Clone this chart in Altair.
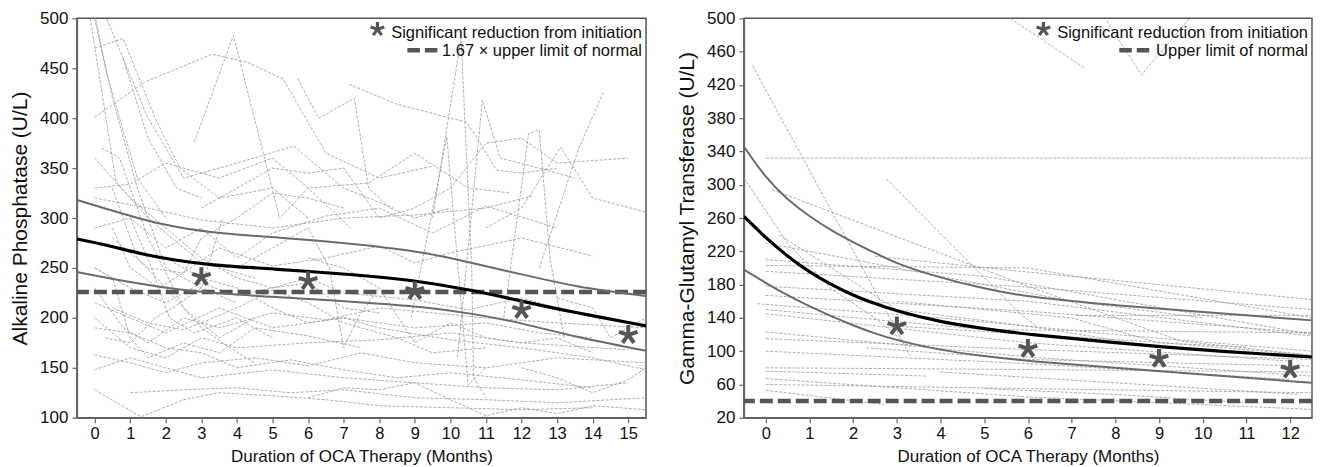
import altair as alt
import pandas as pd

FONT = "Liberation Sans"
STAR = "M0,0L0,-1M0,0L0.951,-0.309M0,0L0.588,0.809M0,0L-0.588,0.809M0,0L-0.951,-0.309"

# ---------------- Alkaline phosphatase (left) ----------------
alp_trend_months = [-0.5, 0.35, 1.3, 2.2, 3.2, 5.05, 7.4, 8.9, 10.6, 12.1, 13.4, 15.5]
alp_trend = [279, 273, 264, 258, 253, 249, 243, 238, 228, 216, 206, 192]
alp_ci_months = [-0.5, 0.35, 1.3, 2.2, 3.6, 5.05, 7.4, 9.3, 10.7, 12.1, 13.5, 15.5]
alp_upper = [318, 309, 299, 291, 284, 281, 274, 266, 254, 243, 231, 222]
alp_lower = [246, 240, 234, 229, 224, 221, 216, 211, 204, 194, 181, 167]
alp_star_months = [3, 6, 9, 12, 15]
alp_star_values = [241, 237, 227, 208, 183]
alp_ref = [226]
alp_patients = [
    [(0, 401), (1.4, 436), (3.3, 464), (4.3, 456), (5.3, 439), (6.5, 365), (8, 340), (9.5, 352)],
    [(2.8, 376), (3.9, 483), (5.2, 300), (6, 330), (7.2, 290)],
    [(-0.3, 540), (0.6, 336), (1.5, 300), (3, 255), (4.5, 240)],
    [(-0.1, 520), (0.5, 420), (1.2, 330), (2, 250), (3, 230), (4, 215)],
    [(0, 470), (0.8, 480), (1.7, 400), (2.4, 350), (3.5, 320), (5, 330), (6, 300)],
    [(0.1, 520), (1.5, 400), (2.5, 340), (4, 355), (5.6, 372), (7, 330), (8.4, 310)],
    [(0, 330), (1, 334), (2, 355), (3.5, 340), (5, 360), (6, 330), (7.7, 335), (9, 365), (10.5, 330), (11.7, 325)],
    [(0, 320), (1.5, 310), (3, 298), (5, 290), (7, 300), (9, 303), (11, 310), (12.3, 322)],
    [(0, 290), (1, 300), (2, 270), (3, 290), (4, 260), (5, 285), (6.5, 302), (8, 310), (9.5, 285), (11, 312), (13, 290)],
    [(0.5, 280), (1.5, 250), (2.5, 245), (3.5, 270), (5, 252), (6.5, 260), (8, 272), (9, 255), (10, 265), (12, 280), (14, 262)],
    [(0, 250), (1, 230), (2, 215), (3, 235), (4, 222), (5, 230), (6, 240), (7, 225), (9, 218), (10.5, 208), (12, 220), (13.5, 205)],
    [(0, 230), (0.8, 190), (1.5, 175), (2.5, 200), (3.5, 190), (5, 205), (6.5, 198), (8, 210), (9.5, 205), (11, 200), (13, 195), (15.5, 190)],
    [(0, 215), (1, 200), (2, 185), (3.5, 210), (5, 190), (7, 200), (9, 190), (11, 195), (12.5, 185), (14, 180)],
    [(0, 200), (1, 170), (2, 160), (3, 180), (4, 170), (6, 175), (8, 178), (10, 185), (12, 175), (15, 168)],
    [(0, 163), (1, 155), (2, 145), (3, 155), (4.5, 160), (6, 152), (7.5, 165), (9, 155), (11, 150), (13, 160), (15.5, 155)],
    [(0, 148), (1, 160), (2, 150), (3, 140), (5, 148), (7, 140), (9, 135), (11, 130), (13, 128), (15, 135)],
    [(0, 128), (1.3, 101), (2.5, 118), (3.5, 125), (5, 122), (6.5, 118), (8, 112), (10, 110), (12, 108), (14, 110)],
    [(1, 125), (2.5, 128), (4, 130), (5.5, 125), (7, 128), (9, 120), (11, 118), (13, 115), (15.5, 120)],
    [(0, 190), (1, 185), (2, 170), (3, 165), (4, 150), (5.5, 158), (7, 148), (8.5, 140), (10, 145), (12, 138), (14, 130)],
    [(0.2, 370), (0.7, 360), (1.5, 280), (2.5, 210), (3.5, 180), (4.5, 200)],
    [(0, 360), (1, 320), (2, 290), (3, 260), (4, 240), (5, 230), (6, 235), (7, 210), (8, 205)],
    [(0, 250), (0.5, 240), (1, 180), (1.5, 160), (2.5, 175), (3.5, 165), (4.5, 190), (6, 182), (7.5, 170)],
    [(0.5, 330), (1.2, 260), (2, 230), (3, 190), (3.8, 170), (4.5, 155)],
    [(1, 300), (1.6, 250), (2.1, 200), (2.8, 185), (4, 200), (5, 180)],
    [(5.7, 440), (6.3, 400), (7.3, 420), (7.7, 330), (8.3, 310), (9, 300), (10, 310)],
    [(7.15, 434), (8.5, 414), (10.45, 396), (10.7, 383), (11.3, 348), (12, 345), (13, 350)],
    [(8.9, 200), (9.9, 381), (10.5, 133), (11, 150)],
    [(9.5, 300), (10.3, 480), (10.6, 250), (10.65, 140), (11, 120)],
    [(10.2, 160), (10.9, 418), (11.4, 360), (12.5, 350), (13.5, 340)],
    [(11.5, 200), (12.2, 385), (12.5, 388), (12.8, 260), (13.2, 180)],
    [(11, 290), (12, 310), (13.1, 371), (14, 320), (15.5, 306)],
    [(12.5, 250), (13.6, 369), (14.3, 426)],
    [(6, 260), (7, 250), (8, 230), (9, 175), (10, 195), (11, 180), (12, 175), (13, 180), (14, 165)],
    [(2, 260), (3, 240), (4, 230), (5, 210), (6, 195), (7, 200), (8, 190), (10, 178), (12, 170), (14, 160), (15.5, 148)],
    [(6, 120), (7, 130), (8, 128), (9, 135), (10, 118), (11, 102), (12, 110), (13, 104), (14, 112), (15.5, 108)],
    [(0.5, 290), (1, 250), (1.8, 230), (2.5, 245), (3, 280), (4, 300), (5, 325), (6, 320), (7, 310)],
    [(3, 310), (4, 330), (5, 350), (6, 345), (7, 350), (8, 300), (9, 310), (10, 330), (11, 375), (12, 380), (13, 355), (15, 360)],
    [(0.5, 210), (1.5, 195), (2.5, 188), (3, 195), (4, 210), (5, 228), (6, 215), (7, 195), (8.5, 180), (9.5, 165), (11, 170)],
    [(4, 250), (5, 270), (6, 290), (6.6, 250), (7, 170), (7.4, 200), (8, 230)],
    [(13, 220), (14, 210), (14.5, 180), (15.5, 200)],
    [(0, 500), (0.3, 450), (0.7, 400), (1.2, 340), (2, 300)],
    [(0.8, 460), (1.5, 380), (2.3, 330), (3, 320)],
    [(12, 150), (13, 140), (14, 125), (15, 138), (15.5, 150)],
    [(0.3, 180), (1, 175), (1.7, 200), (2.2, 210), (3, 230), (3.6, 300)],
]

# ---------------- Gamma-glutamyl transferase (right) ----------------
ggt_curve_months = [-0.5, 0, 0.5, 1, 1.5, 2, 2.5, 3, 4, 5, 6, 8, 10, 12.5]
ggt_trend = [262, 236, 214, 195, 180, 167, 157, 148, 135, 127, 120, 110, 101, 93]
ggt_upper = [346, 308, 282, 262, 245, 231, 218, 205, 188, 175, 165, 155, 147, 137]
ggt_lower = [198, 182, 167, 154, 142, 131, 121, 113, 101, 94, 88, 80, 72, 62]
ggt_star_months = [3, 6, 9, 12]
ggt_star_values = [130, 103, 91, 78]
ggt_ref = [40]
ggt_patients = [
    [(-0.3, 443), (3.3, 95)],
    [(-0.5, 308), (0.5, 230), (1.5, 175), (2.5, 140), (3.3, 105)],
    [(2.76, 307), (5.8, 146), (6.2, 130)],
    [(0.15, 294), (6, 178), (9.5, 112), (12.5, 95)],
    [(5.6, 500), (7.3, 440)],
    [(7.8, 497), (8.6, 432), (9.7, 500)],
    [(0, 332), (12.5, 332)],
    [(2.5, 214), (6, 195), (9, 180), (12.5, 162)],
    [(0, 203), (6, 200), (12.5, 140)],
    [(0, 196), (6, 177), (12.5, 150)],
    [(0, 178), (6, 160), (12.5, 118)],
    [(0, 167), (6, 148), (12.5, 122)],
    [(-0.2, 157), (4, 140), (8, 120), (12.5, 100)],
    [(0, 123), (6, 93), (12.5, 70)],
    [(2.3, 104), (6, 90), (12.5, 82)],
    [(0, 80), (6, 78), (12.5, 75)],
    [(0, 76), (3.7, 70)],
    [(0, 67), (6, 45), (12.5, 30)],
    [(0, 53), (2.7, 36)],
    [(0.3, 240), (3, 150), (6, 130), (9, 105)],
    [(0, 230), (3, 200), (7, 160), (10, 140)],
    [(7.1, 143), (12.5, 143)],
    [(0, 210), (5, 190), (12.5, 120)],
    [(0, 115), (6, 102), (12.5, 90)],
    [(0, 100), (6, 85), (12, 66)],
    [(0, 60), (6, 55), (12.5, 50)],
    [(3, 160), (7, 140), (9, 110), (11, 105)],
    [(0, 145), (6, 110), (12, 88)],
    [(0, 150), (5, 126), (12.5, 122)],
    [(3, 130), (8.9, 111), (12.5, 95)],
    [(4, 75), (8, 62), (12.2, 48)],
    [(5, 55), (8, 48), (11, 38)],
]

legend_star_label = "Significant reduction from initiation"
alp_ref_label = "1.67 \u00d7 upper limit of normal"
ggt_ref_label = "Upper limit of normal"


def patients_df(lines):
    rows = []
    for i, line in enumerate(lines):
        for m, v in line:
            rows.append({"id": i, "month": m, "value": v})
    return pd.DataFrame(rows)


def curve_df(months, values):
    return pd.DataFrame({"month": months, "value": values})


def panel(pats, tm, tv, cm, up, lo, sm, sv, ref, xdom, xticks, ydom, yticks,
          ytitle, ref_label, dash_end, width, height):
    x = alt.X("month:Q", scale=alt.Scale(domain=xdom, nice=False, zero=False),
              axis=alt.Axis(values=xticks, format="d",
                            title="Duration of OCA Therapy (Months)"))
    y = alt.Y("value:Q", scale=alt.Scale(domain=ydom, nice=False, zero=False),
              axis=alt.Axis(values=yticks, title=ytitle))

    base_pat = alt.Chart(patients_df(pats)).mark_line(
        clip=True, color="#9a9a9a", strokeWidth=0.8, strokeDash=[3, 1.5]
    ).encode(x=x, y=y, detail="id:N")

    ref_line = alt.Chart(pd.DataFrame({"value": ref})).mark_rule(
        color="#555555", strokeWidth=4.5, strokeDash=[13, 5]
    ).encode(y=y)

    upper = alt.Chart(curve_df(cm, up)).mark_line(
        clip=True, color="#6b6b6b", strokeWidth=2, interpolate="basis"
    ).encode(x=x, y=y)
    lower = alt.Chart(curve_df(cm, lo)).mark_line(
        clip=True, color="#6b6b6b", strokeWidth=2, interpolate="basis"
    ).encode(x=x, y=y)
    trend = alt.Chart(curve_df(tm, tv)).mark_line(
        clip=True, color="#000000", strokeWidth=3.2, interpolate="basis"
    ).encode(x=x, y=y)

    stars = alt.Chart(curve_df(sm, sv)).mark_point(
        shape=STAR, filled=False, size=380, strokeWidth=4, color="#555555",
        opacity=1, strokeCap="butt"
    ).encode(x=x, y=y)

    leg_df = pd.DataFrame({"t": [0]})
    leg_t1 = alt.Chart(leg_df).mark_text(
        text=legend_star_label, align="right", baseline="alphabetic",
        font=FONT, fontSize=16.5, color="#111111"
    ).encode(x=alt.value(width - 4), y=alt.value(20))
    leg_t2 = alt.Chart(leg_df).mark_text(
        text=ref_label, align="right", baseline="alphabetic",
        font=FONT, fontSize=16.5, color="#111111"
    ).encode(x=alt.value(width - 4), y=alt.value(37.5))
    leg_star = alt.Chart(leg_df).mark_point(
        shape=STAR, filled=False, size=210, strokeWidth=3.2, color="#555555",
        opacity=1, strokeCap="butt"
    ).encode(x=alt.value(width - 269), y=alt.value(11))
    leg_dash = alt.Chart(leg_df).mark_rule(
        color="#555555", strokeWidth=4.5, strokeDash=[12.5, 5]
    ).encode(x=alt.value(width - dash_end - 30), x2=alt.value(width - dash_end),
             y=alt.value(32))

    return alt.layer(base_pat, ref_line, upper, lower, trend, stars,
                     leg_t1, leg_t2, leg_star, leg_dash).properties(
        width=width, height=height)


left = panel(alp_patients, alp_trend_months, alp_trend, alp_ci_months, alp_upper,
             alp_lower, alp_star_months, alp_star_values, alp_ref,
             [-0.5, 15.5], list(range(0, 16)), [100, 500], list(range(100, 501, 50)),
             "Alkaline Phosphatase (U/L)", alp_ref_label, 209, 570, 400)
right = panel(ggt_patients, ggt_curve_months, ggt_trend, ggt_curve_months, ggt_upper,
              ggt_lower, ggt_star_months, ggt_star_values, ggt_ref,
              [-0.5, 12.5], list(range(0, 13)), [20, 500], list(range(20, 501, 40)),
              "Gamma-Glutamyl Transferase (U/L)", ggt_ref_label, 163, 569, 400)

chart = alt.hconcat(left, right, spacing=26).properties(
    padding={"left": 0, "top": 0, "right": 0, "bottom": 0}
).configure_view(
    stroke="#555555", strokeWidth=1.5
).configure_axis(
    grid=False, domainColor="#666666", domainWidth=1.5, tickColor="#666666",
    tickWidth=1.2, tickSize=5, labelColor="#111111", titleColor="#111111",
    labelFont=FONT, titleFont=FONT, titleFontWeight="normal"
).configure_axisX(
    labelFontSize=16.5, titleFontSize=17, labelPadding=3, titlePadding=6
).configure_axisY(
    labelFontSize=17, titleFontSize=21, labelPadding=4, titlePadding=9
)

chart.save("out.html", embed_options={"renderer": "svg", "actions": False})
